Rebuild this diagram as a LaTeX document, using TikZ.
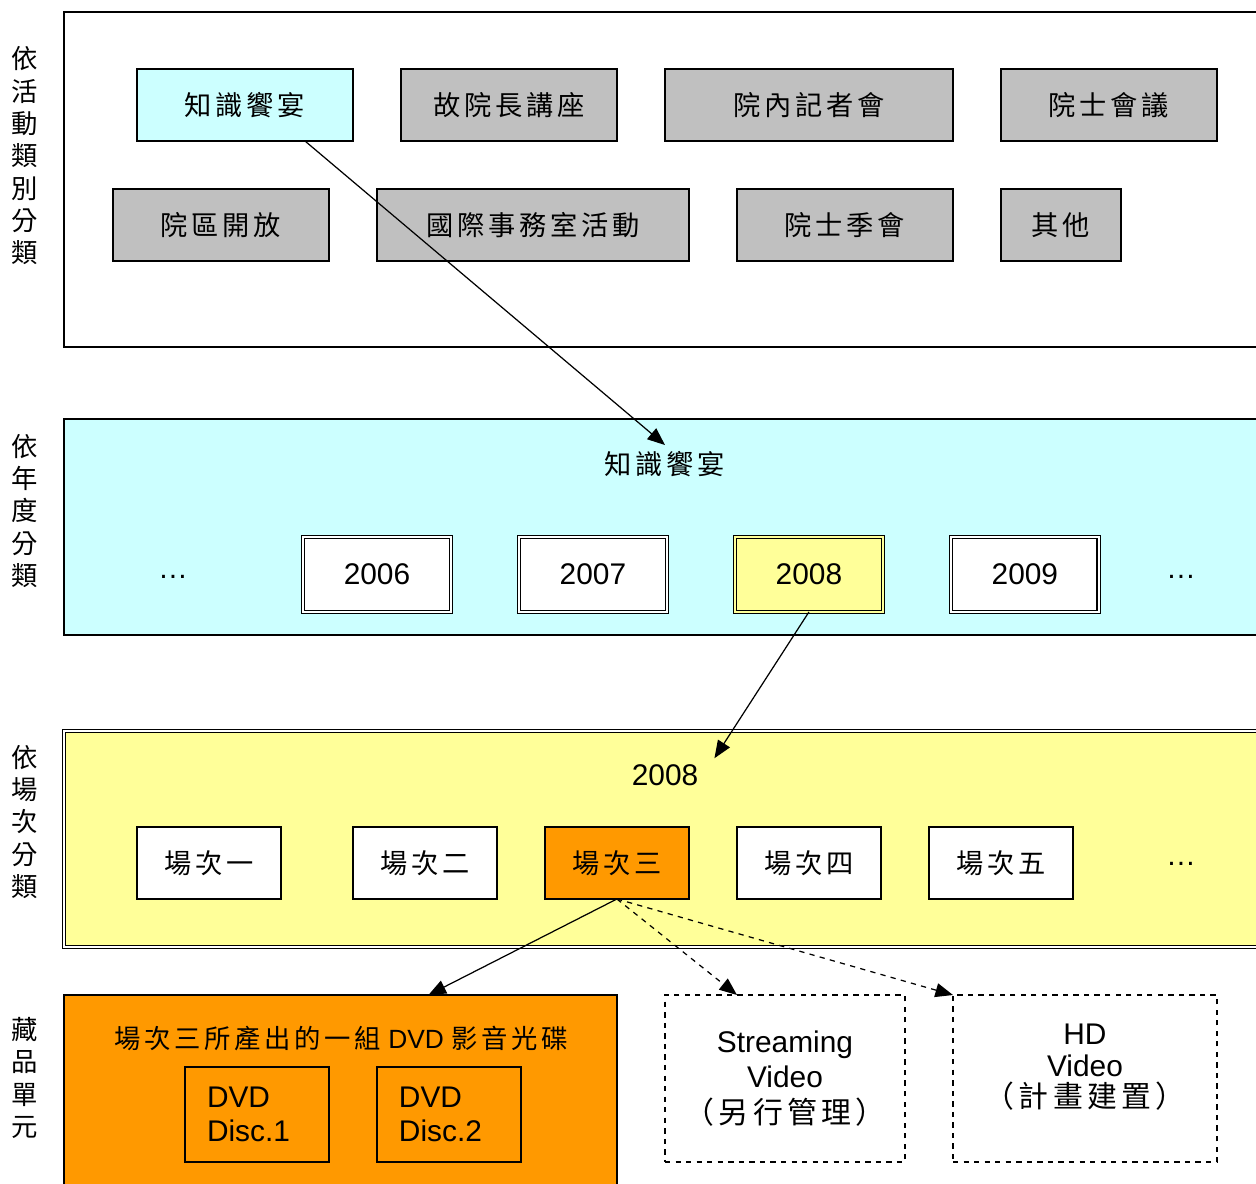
\documentclass[tikz,border=0pt]{standalone}
\usepackage{fontspec}
\setmainfont{Liberation Sans}
\newfontfamily\cjk[LetterSpace=14]{Noto Sans CJK TC}
\newfontfamily\cjkv{Noto Sans CJK TC}
\usetikzlibrary{positioning,arrows.meta}
\definecolor{paleblue}{HTML}{CCFFFF}
\definecolor{boxgray}{HTML}{C0C0C0}
\definecolor{paleyellow}{HTML}{FFFF99}
\definecolor{discorange}{HTML}{FF9900}
\tikzset{
  panel/.style={draw,line width=0.8pt,inner sep=0pt,outer sep=0pt,anchor=north west},
  catbox/.style={draw,line width=0.8pt,fill=boxgray,minimum width=4.32cm,minimum height=1.44cm,inner sep=0pt,outer sep=0pt,font=\cjk\fontsize{15.5}{18}\selectfont},
  yearbox/.style={draw,double,double distance=1.5pt,line width=0.6pt,fill=white,minimum width=2.96cm,minimum height=1.5cm,inner sep=0pt,outer sep=0pt,font=\fontsize{17}{20}\selectfont},
  sessbox/.style={draw,line width=0.8pt,fill=white,minimum width=2.88cm,minimum height=1.44cm,inner sep=0pt,outer sep=0pt,font=\cjk\fontsize{15.5}{18}\selectfont},
  discbox/.style={draw,line width=0.8pt,text width=2cm,inner xsep=0.44cm,outer sep=0pt,minimum height=1.9cm,align=left,font=\fontsize{17}{19}\selectfont},
  mediabox/.style={draw,dashed,line width=0.8pt,minimum height=3.34cm,align=center,anchor=north west,outer sep=0pt},
  sidelabel/.style={align=center,font=\cjkv\fontsize{15}{18.4}\selectfont},
  dots/.style={font=\fontsize{17}{20}\selectfont}
}
\begin{document}
\begin{tikzpicture}[x=0.02cm,y=-0.02cm,>={Triangle[length=10pt,width=8pt]}]
\useasboundingbox (0,0) rectangle (1256,1183);
\clip (0,0) rectangle (1256,1183);

% panel 1: activity types
\node[panel,fill=white,minimum width=24.9cm,minimum height=6.7cm] (p1) at (64,12) {};
\node[sidelabel] (l1) at (25,156) {依\\活\\動\\類\\別\\分\\類};
\node[catbox,fill=paleblue,anchor=north west] (feast) at (137,69) {知識饗宴};
\node[catbox,right=0.96cm of feast] (lecture) {故院長講座};
\node[catbox,minimum width=5.76cm,right=0.96cm of lecture] (press) {院內記者會};
\node[catbox,right=0.96cm of press] (council) {院士會議};
\node[catbox,anchor=north west] (openhouse) at (113,189) {院區開放};
\node[catbox,minimum width=6.24cm,right=0.96cm of openhouse] (intl) {國際事務室活動};
\node[catbox,right=0.96cm of intl] (season) {院士季會};
\node[catbox,minimum width=2.4cm,right=0.96cm of season] (other) {其他};

% panel 2: years
\node[panel,fill=paleblue,minimum width=24.9cm,minimum height=4.32cm] (p2) at (64,419) {};
\node[sidelabel] (l2) at (25,511) {依\\年\\度\\分\\類};
\node[font=\cjk\fontsize{15.5}{18}\selectfont] (ytitle) at (665,464) {知識饗宴};
\node[yearbox,anchor=north west] (y2006) at (303,537) {2006};
\node[yearbox,right=1.36cm of y2006] (y2007) {2007};
\node[yearbox,fill=paleyellow,double=paleyellow,right=1.36cm of y2007] (y2008) {2008};
\node[yearbox,right=1.36cm of y2008] (y2009) {2009};
\node[dots] (yl) at (173,577) {…};
\node[dots] (yr) at (1181,577) {…};

% panel 3: sessions
\node[panel,double,double distance=1.5pt,line width=0.6pt,fill=paleyellow,minimum width=24.9cm,minimum height=4.32cm] (p3) at (64,731) {};
\node[sidelabel] (l3) at (25,822) {依\\場\\次\\分\\類};
\node[font=\fontsize{17}{20}\selectfont] (stitle) at (665,775) {2008};
\node[sessbox,anchor=north west] (s1) at (137,827) {場次一};
\node[sessbox,right=1.44cm of s1] (s2) {場次二};
\node[sessbox,fill=discorange,right=0.96cm of s2] (s3) {場次三};
\node[sessbox,right=0.96cm of s3] (s4) {場次四};
\node[sessbox,right=0.96cm of s4] (s5) {場次五};
\node[dots] (sr) at (1181,864) {…};

% collection units
\node[sidelabel] (l4) at (25,1078) {藏\\品\\單\\元};
\node[panel,fill=discorange,minimum width=11.06cm,minimum height=4.4cm] (dvdset) at (64,995) {};
\node[font=\fontsize{15}{18}\selectfont] (dtitle) at (341,1038) {{\cjk 場次三所產出的一組} DVD {\cjk 影音光碟}};
\node[discbox,anchor=north west] (disc1) at (185,1067) {DVD\\Disc.1};
\node[discbox,right=0.96cm of disc1] (disc2) {DVD\\Disc.2};
\node[mediabox,minimum width=4.8cm,font=\fontsize{17}{20}\selectfont] (stream) at (665,995) {Streaming\\Video\\{\cjk （另行管理）}};
\node[mediabox,minimum width=5.28cm,font=\fontsize{17}{18}\selectfont] (hd) at (953,995) {HD\\Video\\{\cjk （計畫建置）}\\[-3.5pt]};

% links
\draw[->,line width=0.7pt] ([xshift=1.2cm]feast.south) -- (ytitle.north);
\draw[->,line width=0.7pt] (y2008.south) -- ([xshift=0.2cm]stitle.north east);
\draw[->,line width=0.7pt] (s3.south) -- ([xshift=1.76cm]dvdset.north);
\draw[->,dashed,line width=0.7pt] (s3.south) -- ([xshift=1.44cm]stream.north west);
\draw[->,dashed,line width=0.7pt] (s3.south) -- (hd.north west);
\end{tikzpicture}
\end{document}
